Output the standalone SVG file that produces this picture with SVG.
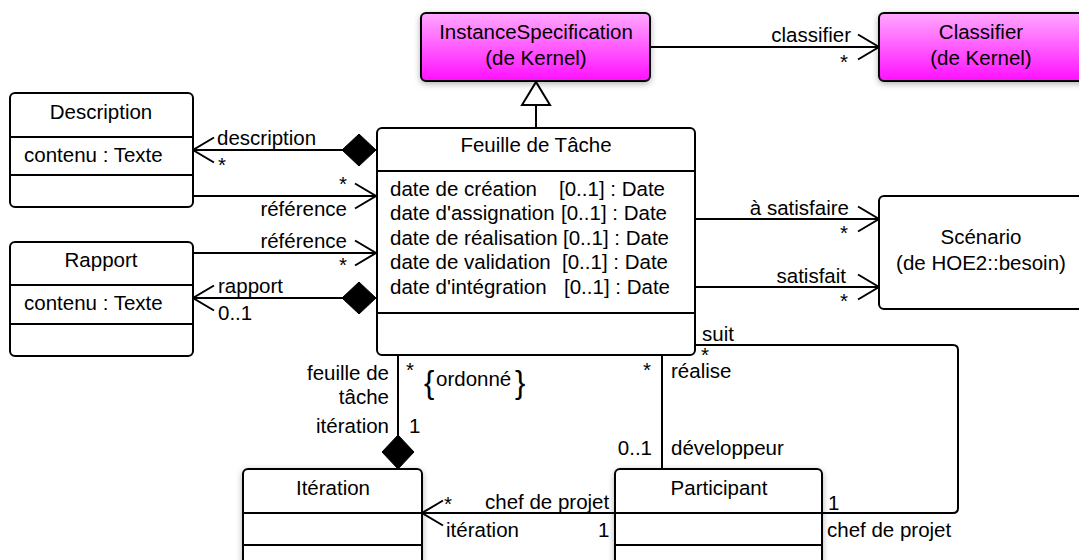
<svg xmlns="http://www.w3.org/2000/svg" width="1079" height="560" viewBox="0 0 1079 560">
<style>
text{font-family:"Liberation Sans",Arial,sans-serif;font-size:20.5px;fill:#000}
.c{text-anchor:middle}
.e{text-anchor:end}
.box{fill:#fff;stroke:#000;stroke-width:2}
.mag{fill:url(#mg);stroke:#000;stroke-width:2}
.sep{stroke:#000;stroke-width:2}
.ln{fill:none;stroke:#000;stroke-width:2}
.arr{marker-end:url(#open)}
</style>
<defs>
<linearGradient id="mg" x1="0" y1="0" x2="0" y2="1">
<stop offset="0" stop-color="#ffa8ff"/>
<stop offset="1" stop-color="#ff10ff"/>
</linearGradient>
<filter id="sh" x="-10%" y="-10%" width="125%" height="130%">
<feDropShadow dx="0" dy="2" stdDeviation="3" flood-color="#000" flood-opacity="0.3"/>
</filter>
<marker id="open" viewBox="-23 -14 25 28" refX="0" refY="0" markerWidth="25" markerHeight="28" markerUnits="userSpaceOnUse" orient="auto">
<path d="M -21 -12.5 L 0 0 L -21 12.5" fill="none" stroke="#000" stroke-width="2"/>
</marker>
<marker id="dia" viewBox="-1 -18 37 36" refX="0" refY="0" markerWidth="37" markerHeight="36" markerUnits="userSpaceOnUse" orient="auto">
<path d="M 0 0 L 17 -16 L 34 0 L 17 16 Z" fill="#000" stroke="#000" stroke-width="1"/>
</marker>
</defs>

<g id="connectors">
<line class="ln" x1="536" y1="128" x2="536" y2="105"/>
<path d="M 522 105 L 536 82 L 550 105 Z" fill="#fff" stroke="#000" stroke-width="2"/>
<line class="ln arr" x1="650" y1="47" x2="879" y2="47"/>
<text x="851" y="42" class="e">classifier</text>
<text x="840" y="69">*</text>

<path class="ln arr" d="M 376 150 L 193 150" marker-start="url(#dia)"/>
<text x="217" y="145">description</text>
<text x="218" y="172">*</text>

<line class="ln arr" x1="193" y1="196" x2="376" y2="196"/>
<text x="339" y="191">*</text>
<text x="347" y="216" class="e">référence</text>

<line class="ln arr" x1="193" y1="253" x2="376" y2="253"/>
<text x="347" y="248" class="e">référence</text>
<text x="339" y="272">*</text>

<path class="ln arr" d="M 376 298 L 193 298" marker-start="url(#dia)"/>
<text x="218" y="293">rapport</text>
<text x="218" y="320">0..1</text>

<line class="ln arr" x1="695" y1="219" x2="879" y2="219"/>
<text x="849" y="215" class="e">à satisfaire</text>
<text x="840" y="240">*</text>
<line class="ln arr" x1="695" y1="287" x2="879" y2="287"/>
<text x="846" y="283" class="e">satisfait</text>
<text x="840" y="308">*</text>

<path class="ln" d="M 695 345 L 953 345 Q 958 345 958 350 L 958 508 Q 958 513 953 513 L 822 513"/>
<text x="702" y="341">suit</text>
<text x="701" y="362">*</text>
<text x="828" y="510">1</text>
<text x="827" y="537">chef de projet</text>

<path class="ln" d="M 398 469 L 398 355" marker-start="url(#dia)"/>
<text x="389" y="380" class="e">feuille de</text>
<text x="389" y="404" class="e">tâche</text>
<text x="406" y="377">*</text>
<text x="424" y="393" style="font-size:31px">{</text>
<text x="436" y="386">ordonné</text>
<text x="515" y="393" style="font-size:31px">}</text>
<text x="389" y="433" class="e">itération</text>
<text x="409" y="433">1</text>

<line class="ln" x1="662" y1="355" x2="662" y2="469"/>
<text x="643" y="377">*</text>
<text x="671" y="378">réalise</text>
<text x="652" y="455" class="e">0..1</text>
<text x="671" y="455">développeur</text>

<line class="ln arr" x1="615" y1="513" x2="422" y2="513"/>
<text x="444" y="511">*</text>
<text x="485" y="509">chef de projet</text>
<text x="446" y="537">itération</text>
<text x="598" y="537">1</text>
</g>

<g id="instancespecification">
<rect class="mag" x="421" y="13" width="229" height="68" rx="5" filter="url(#sh)"/>
<text x="536" y="39" class="c">InstanceSpecification</text>
<text x="536" y="65" class="c">(de Kernel)</text>
</g>

<g id="classifier">
<rect class="mag" x="879" y="13" width="215" height="68" rx="5" filter="url(#sh)"/>
<text x="981" y="39" class="c">Classifier</text>
<text x="981" y="65" class="c">(de Kernel)</text>
</g>

<g id="feuille">
<rect class="box" x="377" y="128" width="318" height="227" rx="5"/>
<line class="sep" x1="377" y1="171" x2="695" y2="171"/>
<line class="sep" x1="377" y1="313" x2="695" y2="313"/>
<text x="536" y="152" class="c">Feuille de Tâche</text>
<text y="196"><tspan x="390">date de création</tspan><tspan x="559">[0..1] : Date</tspan></text>
<text y="220"><tspan x="390">date d'assignation</tspan><tspan x="561">[0..1] : Date</tspan></text>
<text y="245"><tspan x="390">date de réalisation</tspan><tspan x="563">[0..1] : Date</tspan></text>
<text y="269"><tspan x="390">date de validation</tspan><tspan x="562">[0..1] : Date</tspan></text>
<text y="294"><tspan x="390">date d'intégration</tspan><tspan x="564">[0..1] : Date</tspan></text>
</g>

<g id="description">
<rect class="box" x="10" y="93" width="183" height="114" rx="5"/>
<line class="sep" x1="10" y1="137" x2="193" y2="137"/>
<line class="sep" x1="10" y1="175" x2="193" y2="175"/>
<text x="101" y="119" class="c">Description</text>
<text x="24" y="162">contenu : Texte</text>
</g>

<g id="rapport">
<rect class="box" x="10" y="242" width="183" height="114" rx="5"/>
<line class="sep" x1="10" y1="285" x2="193" y2="285"/>
<line class="sep" x1="10" y1="324" x2="193" y2="324"/>
<text x="101" y="267" class="c">Rapport</text>
<text x="24" y="310">contenu : Texte</text>
</g>

<g id="scenario">
<rect class="box" x="879" y="196" width="215" height="113" rx="5"/>
<text x="981" y="244" class="c">Scénario</text>
<text x="981" y="270" class="c">(de HOE2::besoin)</text>
</g>

<g id="iteration">
<rect class="box" x="243" y="469" width="179" height="110" rx="5" filter="url(#sh)"/>
<line class="sep" x1="243" y1="513" x2="422" y2="513"/>
<line class="sep" x1="243" y1="545" x2="422" y2="545"/>
<text x="333" y="495" class="c">Itération</text>
</g>

<g id="participant">
<rect class="box" x="615" y="469" width="207" height="110" rx="5" filter="url(#sh)"/>
<line class="sep" x1="615" y1="513" x2="822" y2="513"/>
<line class="sep" x1="615" y1="545" x2="822" y2="545"/>
<text x="719" y="495" class="c">Participant</text>
</g>
</svg>
